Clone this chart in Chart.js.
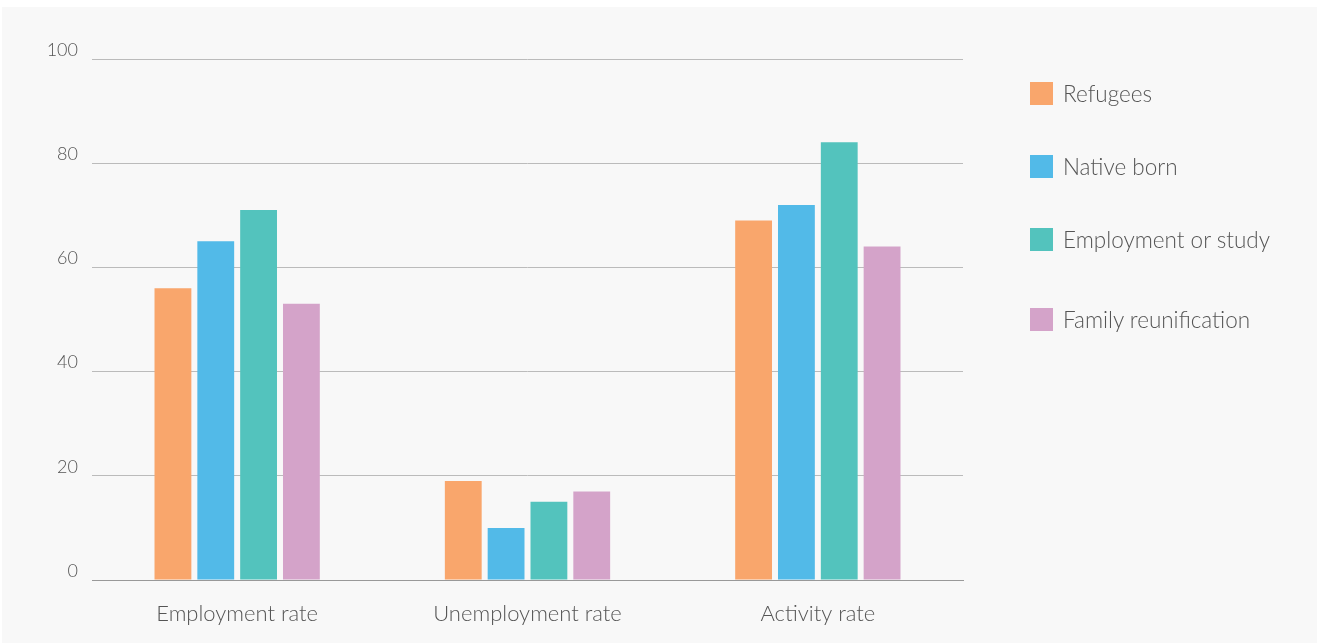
<!DOCTYPE html>
<html>
<head>
<meta charset="utf-8">
<script src="https://cdn.jsdelivr.net/npm/chart.js@4/dist/chart.umd.min.js"></script>
<style>
    body { margin: 0; background: #ffffff; font-family: Lato, sans-serif; }
    #panel { position: absolute; left: 2px; top: 7px; width: 1315px; height: 636px; background: #f8f8f8; }
    #wrap { position: absolute; left: 0; top: 0; width: 1315px; height: 636px; }
    #legend { position: absolute; left: 1028px; top: 75px; list-style: none; margin: 0; padding: 0; }
    #legend li { display: flex; align-items: center; height: 23px; margin-bottom: 50px; font-size: 22.5px; font-weight: 300; color: #555; }
    #legend li:nth-child(3) { margin-bottom: 57px; }
    #legend span { display: inline-block; width: 23px; height: 23px; margin-right: 10px; }
</style>
</head>
<body>
<div id="panel">
    <div id="wrap"><canvas id="rateChart"></canvas></div>
    <ul id="legend"></ul>
</div>
<script>
const categories = ["Employment rate", "Unemployment rate", "Activity rate"];

const seriesNames = ["Refugees", "Native born", "Employment or study", "Family reunification"];

const refugees = [56, 19, 69];
const nativeBorn = [65, 10, 72];
const employmentOrStudy = [71, 15, 84];
const familyReunification = [53, 17, 64];

const yTicks = [0, 20, 40, 60, 80, 100];

const COLORS = ["#f9a66c", "#52bae8", "#53c3bd", "#d4a3c9"];

const seriesValues = [refugees, nativeBorn, employmentOrStudy, familyReunification];

/*
|--------------------------------------------------------------------------
| Legend
|--------------------------------------------------------------------------
*/

const legendEl = document.getElementById("legend");

seriesNames.forEach((name, i) => {
    const li = document.createElement("li");
    li.innerHTML = `<span style="background:${COLORS[i]}"></span>${name}`;
    legendEl.appendChild(li);
});

/*
|--------------------------------------------------------------------------
| Bars
|--------------------------------------------------------------------------
*/

new Chart(document.getElementById("rateChart"), {
    type: "bar",

    data: {
        labels: categories,

        datasets: seriesNames.map((name, i) => ({
            label: name,
            data: seriesValues[i],
            backgroundColor: COLORS[i],
            borderWidth: 0,
            categoryPercentage: 0.59,
            barPercentage: 0.86,
        })),
    },

    options: {
        responsive: true,
        maintainAspectRatio: false,
        animation: false,

        layout: {
            padding: { left: 0, top: 52, right: 354, bottom: 0 },
        },

        plugins: {
            legend: { display: false },
            tooltip: { enabled: false },
        },

        scales: {
            x: {
                grid: { display: false },
                border: { color: "#999999", width: 1 },
                ticks: {
                    color: "#555555",
                    padding: 13,
                    font: { family: "Lato", size: 22, weight: 300 },
                },
                afterFit: (scale) => { scale.height = 63; },
            },

            y: {
                min: 0,
                max: 100,
                border: { display: false },
                grid: { color: "#bbbbbb", drawTicks: false },
                afterBuildTicks: (scale) => {
                    scale.ticks = yTicks.map((v) => ({ value: v }));
                },
                ticks: {
                    color: "#555555",
                    padding: 14,
                    labelOffset: -9,
                    font: { family: "Lato", size: 18, weight: 300 },
                },
                afterFit: (scale) => { scale.width = 90; },
            },
        },
    },
});
</script>
</body>
</html>
